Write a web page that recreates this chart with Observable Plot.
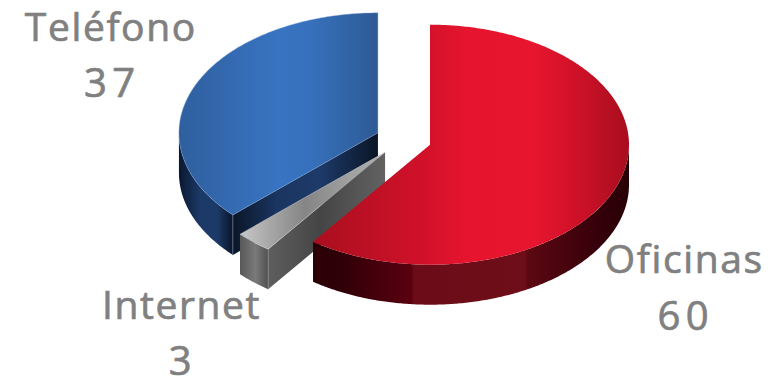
<!DOCTYPE html>
<html lang="es">
<head>
<meta charset="utf-8">
<title>Canales</title>
<script src="https://cdn.jsdelivr.net/npm/d3@7"></script>
<script src="https://cdn.jsdelivr.net/npm/@observablehq/plot@0.6"></script>
<style>
  html, body { margin: 0; padding: 0; background: #fff; }
  svg { display: block; }
</style>
</head>
<body>
<div id="chart"></div>
<script>
// Share of contacts per channel, clockwise from twelve o'clock.
const channels = ["Oficinas", "Internet", "Teléfono"];
const counts = [60, 3, 37];

// Tilted-pie geometry, in units of the pie radius.
const explode = 0.14;
const depth = 1 / 3;
const pxX = 199, pxY = 120, originX = 403, originY = 139;

// Label offsets from each slice's outer rim, in pixels.
const labelDx = [64.5, -72.5, -85];
const labelDy = [107, 92, -29];
const labelLineGap = 28;

// Left-to-right shading of each face.
const shades = {
  redTop: [[0, "#a90f1f"], [0.35, "#d11129"], [0.48, "#e6142e"], [0.7, "#e8152f"], [0.85, "#cb1127"], [1, "#a80e1e"]],
  redRim: [[0, "#2a0006"], [0.08, "#2e0007"], [0.31, "#5a0010"], [0.32, "#6c0c18"], [0.67, "#6e0e18"], [0.68, "#5c0812"], [0.9, "#36000a"], [1, "#280006"]],
  blueTop: [[0, "#2f5f9e"], [0.5, "#3874c2"], [0.65, "#3771bd"], [1, "#2d5a94"]],
  blueRim: [[0, "#0a1830"], [0.4, "#1c3a68"], [0.7, "#1c3a68"], [1, "#091529"]],
  blueCut: [[0, "#0a1628"], [0.3, "#1a3560"], [0.6, "#1d3a69"], [1, "#0a1526"]],
  grayTop: [[0, "#c8c8c8"], [0.2, "#a8a8a8"], [0.45, "#858585"], [0.75, "#a0a0a0"], [1, "#b0b0b0"]],
  grayRim: [[0, "#585858"], [0.55, "#7a7a7a"], [1, "#505050"]],
  grayCut: [[0, "#5e5e5e"], [0.45, "#454545"], [1, "#626262"]]
};

const total = d3.sum(counts);
let running = 0;
const slices = channels.map((name, i) => {
  const a0 = (running / total) * 2 * Math.PI;
  running += counts[i];
  const a1 = (running / total) * 2 * Math.PI;
  const mid = (a0 + a1) / 2;
  return {
    name, value: counts[i], a0, a1, mid,
    cx: Math.sin(mid) * explode,
    cy: -Math.cos(mid) * explode,
    i
  };
});

const rimPoint = (s, a, z = 0) => ({x: s.cx + Math.sin(a), y: s.cy - Math.cos(a) + z});

function arc(s, from, to, z = 0) {
  const steps = Math.max(2, Math.ceil(Math.abs(to - from) / 0.01));
  return d3.range(steps + 1).map((k) => rimPoint(s, from + ((to - from) * k) / steps, z));
}

// Top surface of a slice.
const topFace = (s) => {
  const apex = {x: s.cx, y: s.cy};
  return [apex, ...arc(s, s.a0, s.a1), apex];
};

// Visible wall along the outer rim between two angles.
const rimFace = (s, from, to) => [...arc(s, from, to), ...arc(s, to, from, depth)];

// Straight cut wall from the slice's apex out to the rim at one angle.
const cutFace = (s, a) => {
  const p = rimPoint(s, a);
  return [
    {x: s.cx, y: s.cy},
    p,
    {x: p.x, y: p.y + depth},
    {x: s.cx, y: s.cy + depth}
  ];
};

// Vertical corner where a cut wall meets the rim wall.
const corner = (s, a) => [rimPoint(s, a), rimPoint(s, a, depth)];

const defs = () => {
  const d = d3.create("svg:defs");
  for (const [id, stops] of Object.entries(shades)) {
    const g = d.append("linearGradient").attr("id", id).attr("x1", 0).attr("x2", 1).attr("y1", 0).attr("y2", 0);
    for (const [offset, color] of stops) g.append("stop").attr("offset", offset).attr("stop-color", color);
  }
  return d.node();
};

const face = (points, id, edge = "none") =>
  Plot.line(points, {x: "x", y: "y", fill: `url(#${id})`, stroke: edge, strokeWidth: 0.7, strokeOpacity: 0.55});

const highlight = (points, color) =>
  Plot.line(points, {x: "x", y: "y", stroke: color, strokeWidth: 0.8, strokeOpacity: 0.7});

// One line of a slice's label; tracking is wider on the numbers.
const labelLine = (s, i, text, offset, nudge, size, tracking) => {
  const rim = rimPoint(s, s.mid);
  return Plot.text([s], {
    x: () => rim.x,
    y: () => rim.y,
    text,
    dx: labelDx[i] + nudge,
    dy: labelDy[i] + offset,
    fontSize: size,
    fontFamily: "'Open Sans', sans-serif",
    fill: "#808080",
    stroke: "#808080",
    strokeWidth: 0.7,
    textAnchor: "middle",
    render(index, scales, values, dimensions, context, next) {
      const g = next(index, scales, values, dimensions, context);
      g.setAttribute("letter-spacing", tracking);
      return g;
    }
  });
};

const [oficinas, internet, telefono] = slices;
const quarter = Math.PI / 2;

const marks = [
  defs,
  // Teléfono: the back slice
  face(rimFace(telefono, telefono.a0, 3 * quarter), "blueRim"),
  face(cutFace(telefono, telefono.a0), "blueCut"),
  highlight(corner(telefono, telefono.a0), "#7f93b3"),
  face(topFace(telefono), "blueTop", "#8fb0dc"),
  // Internet: the thin wedge between the other two
  face(rimFace(internet, internet.a0, internet.a1), "grayRim"),
  face(cutFace(internet, internet.a0), "grayCut"),
  highlight(corner(internet, internet.a0), "#9a9a9a"),
  face(topFace(internet), "grayTop", "#e0e0e0"),
  // Oficinas: the front slice
  face(rimFace(oficinas, quarter, oficinas.a1), "redRim"),
  face(topFace(oficinas), "redTop"),
  // Labels: name above value
  ...slices.flatMap((s, i) => [
    labelLine(s, i, (d) => d.name, -labelLineGap, 0.5, 39, "1.6px"),
    labelLine(s, i, (d) => `${d.value}`, labelLineGap, 2, 40, "5.5px")
  ])
];

const chart = Plot.plot({
  width: 773,
  height: 379,
  margin: 0,
  style: {background: "#fff"},
  x: {axis: null, domain: [-originX / pxX, (773 - originX) / pxX], range: [0, 773]},
  y: {axis: null, domain: [-originY / pxY, (379 - originY) / pxY], range: [0, 379]},
  marks
});
document.getElementById("chart").append(chart);
</script>
</body>
</html>
